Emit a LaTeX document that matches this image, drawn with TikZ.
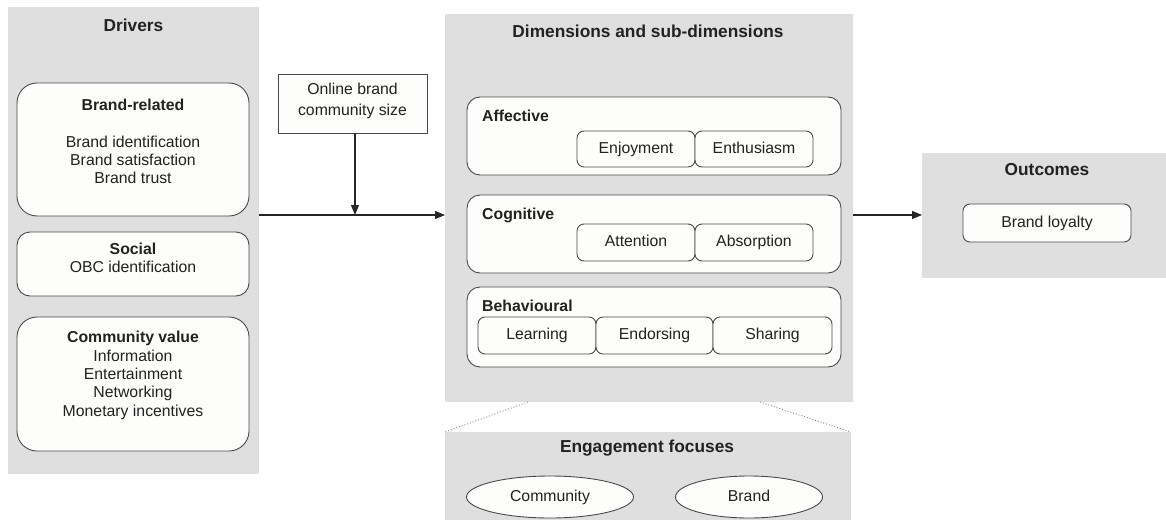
\documentclass[tikz,border=0pt]{standalone}
\usepackage{fontspec}
\setmainfont{Liberation Sans}
\usetikzlibrary{arrows.meta,shapes.geometric}
\definecolor{panelgray}{HTML}{DFDFDF}
\definecolor{boxline}{HTML}{4A4A4A}
\definecolor{txt}{HTML}{222222}
\definecolor{boxfill}{HTML}{FDFDFB}
\tikzset{
  panel/.style={fill=panelgray, draw=none, inner sep=0pt, outer sep=0pt},
  bigbox/.style={draw=boxline, fill=boxfill, line width=0.9pt, rounded corners=20pt, inner sep=0pt},
  dimbox/.style={draw=boxline, fill=boxfill, line width=0.9pt, rounded corners=13pt, inner sep=0pt},
  subbox/.style={draw=boxline, fill=boxfill, line width=0.9pt, rounded corners=7pt, inner sep=0pt, text=txt, font=\bodyfont, text height=11.5pt, text depth=3.5pt},
  plainbox/.style={draw=boxline, fill=boxfill, line width=0.9pt, inner sep=0pt},
  oval/.style={ellipse, draw=boxline, fill=boxfill, line width=0.9pt, inner sep=0pt, text=txt, font=\bodyfont, text height=11.5pt, text depth=3.5pt},
  ptitle/.style={text=txt, font=\titlefont, inner sep=0pt},
  btxt/.style={text=txt, font=\bodyfont, align=center, inner sep=0pt},
  bhead/.style={text=txt, font=\headfont, inner sep=0pt, text height=11.5pt, text depth=3.5pt},
  arr/.style={draw=black!85, line width=1.1pt, -{Triangle[length=10pt,width=8pt]}},
  dotline/.style={draw=black!50, line width=0.9pt, dotted}
}
\newcommand{\bodyfont}{\fontsize{15.8}{18.3}\selectfont}
\newcommand{\headfont}{\fontsize{15.8}{18.3}\selectfont\bfseries}
\newcommand{\titlefont}{\fontsize{17.3}{20}\selectfont\bfseries}
\begin{document}
\begin{tikzpicture}[x=1pt, y=-1pt]
\useasboundingbox (0,0) rectangle (1166,519);
% panels
\node[panel, minimum width=251pt, minimum height=467pt] (drivers) at (133.5,240.5) {};
\node[panel, minimum width=408pt, minimum height=388pt] (dims) at (649,208) {};
\node[panel, minimum width=250pt, minimum height=125pt] (outc) at (1047,215.5) {};
\node[panel, minimum width=406pt, minimum height=90pt] (focus) at (648,477) {};
% dotted connectors
\coordinate (dl) at (528,402);
\coordinate (dr) at (760,402);
\draw[dotline] (dl) -- (focus.north west);
\draw[dotline] (dr) -- (focus.north east);
% titles
\node[ptitle] (tdrv) at (133.5,25) {Drivers};
\node[ptitle] (tdim) at (648,31) {Dimensions and sub-dimensions};
\node[ptitle] (tout) at (1047,170) {Outcomes};
\node[ptitle] (tfoc) at (647,448) {Engagement focuses};
% drivers boxes
\node[bigbox, minimum width=232pt, minimum height=133pt] (brand) at (133,149.5) {};
\node[bhead] (brandh) at (133,106) {Brand-related};
\node[btxt] (brandt) at (133,160) {Brand identification\\Brand satisfaction\\Brand trust};
\node[bigbox, rounded corners=13pt, minimum width=232pt, minimum height=64pt] (social) at (133,264) {};
\node[btxt] (socialt) at (133,258) {\textbf{Social}\\OBC identification};
\node[bigbox, minimum width=232pt, minimum height=134pt] (comm) at (133,384) {};
\node[btxt] (commt) at (133,375.5) {\textbf{Community value}\\Information\\Entertainment\\Networking\\Monetary incentives};
% moderator
\node[plainbox, minimum width=149pt, minimum height=59pt] (obc) at (352.5,103.5) {};
\node[btxt, font=\fontsize{15.8}{21}\selectfont] (obct) at (352.5,101) {Online brand\\community size};
% dimension boxes
\node[dimbox, minimum width=374pt, minimum height=78pt] (aff) at (654,136) {};
\node[bhead, anchor=west] (affh) at (482,117) {Affective};
\node[subbox, minimum width=118pt, minimum height=36pt] (enj) at (636,149) {Enjoyment};
\node[subbox, minimum width=118pt, minimum height=36pt] (ent) at (754,149) {Enthusiasm};
\node[dimbox, minimum width=374pt, minimum height=78pt] (cog) at (654,234) {};
\node[bhead, anchor=west] (cogh) at (482,215) {Cognitive};
\node[subbox, minimum width=118pt, minimum height=37pt] (att) at (636,242.5) {Attention};
\node[subbox, minimum width=118pt, minimum height=37pt] (abs) at (754,242.5) {Absorption};
\node[dimbox, minimum width=374pt, minimum height=80pt] (beh) at (654,327) {};
\node[bhead, anchor=west] (behh) at (482,307) {Behavioural};
\node[subbox, minimum width=118pt, minimum height=37pt] (lea) at (537,335.5) {Learning};
\node[subbox, minimum width=117pt, minimum height=37pt] (end) at (654.5,335.5) {Endorsing};
\node[subbox, minimum width=119pt, minimum height=37pt] (sha) at (772.5,335.5) {Sharing};
% outcome
\node[subbox, minimum width=168pt, minimum height=38pt] (loy) at (1047,223) {Brand loyalty};
% focuses
\node[oval, minimum width=167pt, minimum height=42pt] (fcom) at (550,497) {Community};
\node[oval, minimum width=147pt, minimum height=42pt] (fbra) at (749,497) {Brand};
% connectors
\coordinate (j) at (355,215);
\draw[arr] (drivers.east |- j) -- (dims.west |- j);
\draw[arr] (obc.south -| j) -- (j);
\draw[arr] (dims.east |- j) -- (outc.west |- j);
\end{tikzpicture}
\end{document}
